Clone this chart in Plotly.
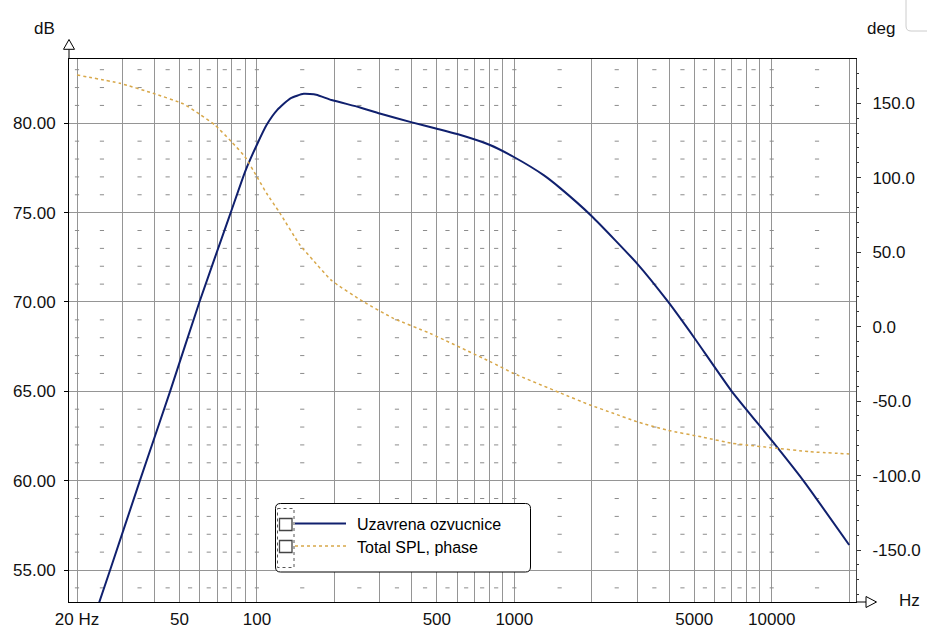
import math
import plotly.graph_objects as go

# Frequency response of the closed-box speaker (SPL, dB)
SPL_FREQ = [20, 26.9, 35.1, 46, 59.8, 79.1, 90, 100, 109, 120, 135, 152, 170,
            195, 250, 300, 400, 500, 600, 800, 1000, 1300, 1500, 2000, 3000,
            3962, 5000, 6994, 10000, 13270, 20000]
SPL_DB = [49.5, 55.0, 60.0, 65.0, 70.0, 75.0, 77.3, 78.8, 79.9, 80.75, 81.4,
          81.65, 81.6, 81.3, 80.9, 80.55, 80.05, 79.7, 79.4, 78.8, 78.1, 77.1,
          76.4, 74.8, 72.15, 70.0, 68.0, 65.0, 62.25, 60.0, 56.4]

# Total SPL phase (deg)
PH_FREQ = [20, 29.4, 39.5, 51.8, 60, 68.7, 79.6, 89.9, 100, 109, 123, 147, 165,
           195, 259, 339, 470, 805, 991, 1504, 1968, 2425, 2988, 3900, 5424,
           6990, 8000, 10000, 14086, 20000]
PH_DEG = [169.0, 163.4, 156.7, 149.6, 142.6, 135.4, 124.2, 114.1, 100.7, 89.6,
          76.1, 54.8, 44.8, 31.0, 16.8, 5.6, -4.5, -23.5, -31.3, -44.4, -52.6,
          -58.2, -63.8, -69.4, -74.3, -78.3, -79.5, -81.3, -84.0, -85.5]

SERIES_NAMES = ["Uzavrena ozvucnice", "Total SPL, phase"]

X_TICKS = [20, 50, 100, 500, 1000, 5000, 10000]
X_TICK_TEXT = ["20 Hz", "50", "100", "500", "1000", "5000", "10000"]
DB_TICKS = [55, 60, 65, 70, 75, 80]
DEG_TICKS = [150, 100, 50, 0, -50, -100, -150]

# log grid lines 20 Hz .. 20 kHz
GRID_FREQS = [m * 10 ** k for k in range(1, 5) for m in range(1, 10)
              if 20 <= m * 10 ** k <= 20000]
# small dash marks of the dotted fine grid
DOT_FREQS = [20, 25, 35, 45, 55, 65, 75, 85, 100, 150, 250, 350, 450, 550, 650,
             750, 850, 1000, 1500, 2500, 3500, 4500, 5500, 6500, 7500, 8500,
             10000, 15000]
DOT_DB = [v for v in range(54, 84) if v % 5 != 0]

W, H = 927, 628
L, R, T, B = 69, 856, 59, 602
FONT = "Arial, Liberation Sans, sans-serif"
NAVY = "#10206e"
TAN = "#d8a84a"
GRID = "#959595"


def px(x):
    return (x - L) / (R - L)


def py(y):
    return (B - y) / (B - T)


fig = go.Figure()

dx, dy = [], []
for f in DOT_FREQS:
    for v in DOT_DB:
        dx.append(f)
        dy.append(v)
fig.add_trace(go.Scatter(
    x=dx, y=dy, mode="markers", hoverinfo="skip", showlegend=False,
    marker=dict(symbol="line-ew", size=3, line=dict(width=1, color="#8c8c8c")),
))

fig.add_trace(go.Scatter(
    x=SPL_FREQ, y=SPL_DB, mode="lines", name=SERIES_NAMES[0], showlegend=False,
    line=dict(color=NAVY, width=2, shape="spline", smoothing=0.5),
))
fig.add_trace(go.Scatter(
    x=PH_FREQ, y=PH_DEG, mode="lines", name=SERIES_NAMES[1], yaxis="y2",
    showlegend=False,
    line=dict(color=TAN, width=1.5, dash="3px,3px", shape="spline", smoothing=0.5),
))

# pixel scale: 257.4 px per decade, 20 Hz at x=77
x_lo = math.log10(20) + (L - 77) / 257.4
x_hi = math.log10(20) + (R - 77) / 257.4
db_per_px = 1 / 17.868
deg_per_px = 1 / 1.489

fig.update_layout(
    width=W, height=H,
    margin=dict(l=L, r=W - R, t=T, b=H - B, autoexpand=False),
    paper_bgcolor="white", plot_bgcolor="white",
    font=dict(family=FONT, size=17, color="#111"),
    xaxis=dict(
        type="log", range=[x_lo, x_hi],
        tickmode="array", tickvals=X_TICKS, ticktext=X_TICK_TEXT,
        ticks="", showgrid=True, gridcolor=GRID, gridwidth=1,
        minor=dict(tickmode="array", tickvals=GRID_FREQS, showgrid=True,
                   gridcolor=GRID, gridwidth=1, ticks=""),
        showline=True, linecolor="black", linewidth=1, mirror=True,
        zeroline=False, ticklabelstandoff=2,
    ),
    yaxis=dict(
        range=[55 - (B - 570) * db_per_px, 80 + (123.3 - T) * db_per_px],
        tickmode="array", tickvals=DB_TICKS,
        ticktext=[f"{v:.2f}" for v in DB_TICKS],
        ticks="outside", ticklen=4, tickcolor="black",
        showgrid=True, gridcolor=GRID, gridwidth=1,
        showline=True, linecolor="black", linewidth=1,
        zeroline=False, ticklabelstandoff=5,
    ),
    yaxis2=dict(
        overlaying="y", side="right",
        range=[-150 - (B - 550) * deg_per_px, 150 + (103.3 - T) * deg_per_px],
        tickmode="array", tickvals=DEG_TICKS,
        ticktext=[f"{v:.1f}" for v in DEG_TICKS],
        ticks="outside", ticklen=4, tickcolor="#333",
        minor=dict(tickmode="linear", tick0=0, dtick=10, ticks="outside",
                   ticklen=2, tickcolor="#333"),
        showgrid=False, showline=True, linecolor="#444", linewidth=1,
        zeroline=False, ticklabelstandoff=8,
    ),
)

shapes = []
# axis extensions and arrow heads
shapes.append(dict(type="line", xref="paper", yref="paper",
                   x0=px(L), x1=px(L), y0=py(49.3), y1=py(T),
                   line=dict(color="black", width=1)))
shapes.append(dict(type="path", xref="paper", yref="paper",
                   path=f"M {px(63.5)},{py(49.3)} L {px(L)},{py(39.5)} L {px(74.5)},{py(49.3)} Z",
                   fillcolor="white", line=dict(color="black", width=1)))
shapes.append(dict(type="line", xref="paper", yref="paper",
                   x0=px(R), x1=px(866), y0=py(B), y1=py(B),
                   line=dict(color="black", width=1)))
shapes.append(dict(type="path", xref="paper", yref="paper",
                   path=f"M {px(866)},{py(596.5)} L {px(876.5)},{py(B)} L {px(866)},{py(607.5)} Z",
                   fillcolor="white", line=dict(color="black", width=1)))

# legend frame with rounded corners
lx0, lx1, ly0, ly1, r = 275.5, 530.5, 503.5, 572, 5
path = (f"M {px(lx0 + r)},{py(ly0)} L {px(lx1 - r)},{py(ly0)} "
        f"Q {px(lx1)},{py(ly0)} {px(lx1)},{py(ly0 + r)} "
        f"L {px(lx1)},{py(ly1 - r)} Q {px(lx1)},{py(ly1)} {px(lx1 - r)},{py(ly1)} "
        f"L {px(lx0 + r)},{py(ly1)} Q {px(lx0)},{py(ly1)} {px(lx0)},{py(ly1 - r)} "
        f"L {px(lx0)},{py(ly0 + r)} Q {px(lx0)},{py(ly0)} {px(lx0 + r)},{py(ly0)} Z")
shapes.append(dict(type="path", xref="paper", yref="paper", path=path, layer="above",
                   fillcolor="white", line=dict(color="black", width=1)))
shapes.append(dict(type="rect", xref="paper", yref="paper", layer="above",
                   x0=px(277.5), x1=px(294), y0=py(508.5), y1=py(567.5),
                   line=dict(color="#555", width=1, dash="dot")))
for cy in (524.5, 546.5):
    shapes.append(dict(type="rect", xref="paper", yref="paper", layer="above",
                       x0=px(279.5), x1=px(292), y0=py(cy - 6), y1=py(cy + 6),
                       fillcolor="white", line=dict(color="#444", width=1.3)))
shapes.append(dict(type="line", xref="paper", yref="paper", layer="above",
                   x0=px(295), x1=px(346), y0=py(523.5), y1=py(523.5),
                   line=dict(color=NAVY, width=2)))
shapes.append(dict(type="line", xref="paper", yref="paper", layer="above",
                   x0=px(295), x1=px(346), y0=py(546), y1=py(546),
                   line=dict(color=TAN, width=1.5, dash="3px,3px")))

# corner of a neighbouring panel at the top right
shapes.append(dict(type="path", xref="paper", yref="paper",
                   path=f"M {px(906)},{py(-2)} L {px(906)},{py(26)} "
                        f"Q {px(906)},{py(31)} {px(911)},{py(31)} L {px(930)},{py(31)}",
                   line=dict(color="#cccccc", width=1)))

annotations = [
    dict(text="dB", x=px(44), y=py(29)),
    dict(text="deg", x=px(881), y=py(29)),
    dict(text="Hz", x=px(909), y=py(600)),
    dict(text=SERIES_NAMES[0], x=px(355), y=py(524), xanchor="left",
         font=dict(size=16, color="black")),
    dict(text=SERIES_NAMES[1], x=px(355), y=py(547), xanchor="left",
         font=dict(size=16, color="black")),
]
for a in annotations:
    a.setdefault("xanchor", "center")
    a.update(xref="paper", yref="paper", yanchor="middle", showarrow=False)
    a.setdefault("font", dict(size=17, color="#111"))

fig.update_layout(shapes=shapes, annotations=annotations)

fig.write_html("out.html")
